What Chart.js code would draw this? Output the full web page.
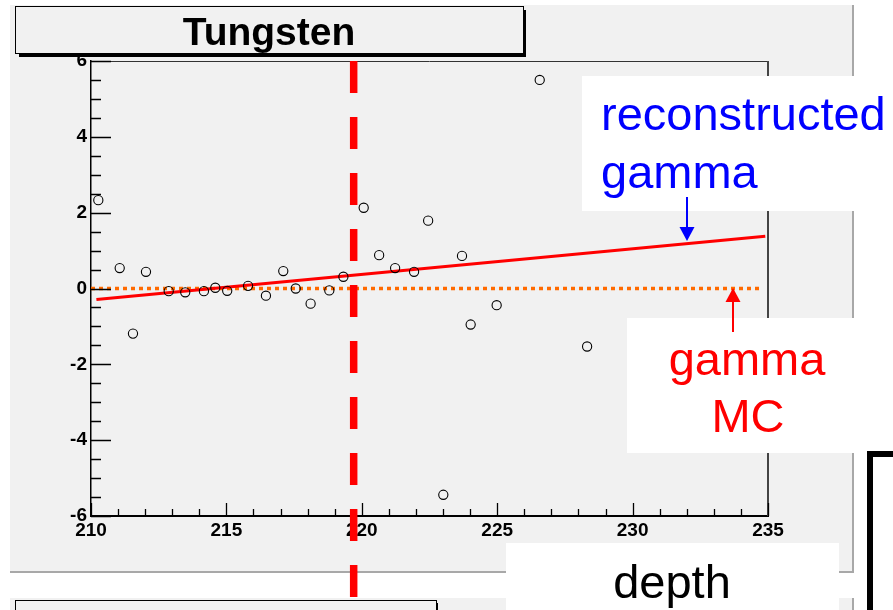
<!DOCTYPE html>
<html>
<head>
<meta charset="utf-8">
<script src="https://cdn.jsdelivr.net/npm/chart.js@4/dist/chart.umd.min.js"></script>
<style>
  html, body { margin: 0; padding: 0; background: #ffffff; }
  canvas { display: block; }
</style>
</head>
<body>
<canvas id="grafico" width="893" height="610"></canvas>
<script>
// data
const titulo = 'Tungsten';
const depthValues = [210.27, 211.06, 211.55, 212.03, 212.87, 213.48, 214.17, 214.59, 215.03, 215.80,
  216.46, 217.10, 217.56, 218.11, 218.80, 219.32, 220.07, 220.64, 221.23, 221.93,
  222.45, 223.01, 223.70, 224.02, 224.98, 226.57, 228.32];
const residuals = [2.33, 0.54, -1.19, 0.44, -0.07, -0.10, -0.07, 0.02, -0.06, 0.07,
  -0.19, 0.46, 0.00, -0.40, -0.05, 0.31, 2.13, 0.88, 0.54, 0.44,
  1.79, -5.44, 0.86, -0.95, -0.44, 5.50, -1.53];
const fitDepth = [210.2, 234.9];       // reconstructed gamma (fit)
const fitValue = [-0.29, 1.38];
const mcDepth = [210.0, 234.8];        // gamma MC
const mcValue = [0, 0];
const cutDepth = 219.7;                // vertical dashed marker
const xRange = [210, 235];
const yRange = [-6, 6];
const xStep = 5;
const yStep = 2;
const recoLabel = ['reconstructed', 'gamma'];
const mcLabel = ['gamma', 'MC'];
const xTitle = 'depth';

const fonte = '"Liberation Sans", Arial, sans-serif';
const cinza = '#f1f1f1';

// Desenha moldura, caixas e anotações ao redor do gráfico
const molduraPlugin = {
  id: 'moldura',
  beforeDraw(chart) {
    const ctx = chart.ctx;
    ctx.save();
    ctx.fillStyle = '#ffffff';
    ctx.fillRect(0, 0, chart.width, chart.height);

    // painel principal
    ctx.fillStyle = cinza;
    ctx.fillRect(10, 5, 843, 567);
    ctx.strokeStyle = '#a8a8a8';
    ctx.lineWidth = 2;
    ctx.beginPath();
    ctx.moveTo(853, 5); ctx.lineTo(853, 572); ctx.lineTo(10, 572);
    ctx.stroke();

    // painel de baixo
    ctx.fillStyle = cinza;
    ctx.fillRect(10, 598, 843, 12);
    ctx.beginPath();
    ctx.moveTo(853, 598); ctx.lineTo(853, 610);
    ctx.stroke();

    // caixa do título
    ctx.fillStyle = '#000000';
    ctx.fillRect(19, 10, 507, 47);
    ctx.fillStyle = cinza;
    ctx.fillRect(15, 6, 508, 48);
    ctx.strokeStyle = '#000000';
    ctx.lineWidth = 1;
    ctx.strokeRect(15.5, 6.5, 508, 47);
    ctx.fillStyle = '#000000';
    ctx.font = 'bold 39px ' + fonte;
    ctx.textAlign = 'center';
    ctx.textBaseline = 'alphabetic';
    ctx.fillText(titulo, 269, 45);

    // segunda caixa de título (cortada)
    ctx.fillStyle = '#000000';
    ctx.fillRect(19, 603, 419, 10);
    ctx.fillStyle = cinza;
    ctx.fillRect(15, 600, 421, 12);
    ctx.strokeStyle = '#000000';
    ctx.strokeRect(15.5, 600.5, 421, 12);

    // colchete preto à direita
    ctx.fillStyle = '#000000';
    ctx.fillRect(867, 451, 6, 159);
    ctx.fillRect(867, 451, 26, 6);
    ctx.restore();
  },
  afterDraw(chart) {
    const ctx = chart.ctx;
    const xs = chart.scales.x;
    const ys = chart.scales.y;
    const area = chart.chartArea;
    ctx.save();

    // moldura superior e direita
    ctx.strokeStyle = '#333333';
    ctx.lineWidth = 1;
    ctx.beginPath();
    ctx.moveTo(area.left, area.top + 0.5); ctx.lineTo(area.right, area.top + 0.5);
    ctx.stroke();
    ctx.lineWidth = 2;
    ctx.strokeStyle = '#444444';
    ctx.beginPath();
    ctx.moveTo(area.right, area.top); ctx.lineTo(area.right, area.bottom);
    ctx.stroke();

    // marcas internas dos eixos
    ctx.strokeStyle = '#000000';
    ctx.lineWidth = 1.3;
    ctx.beginPath();
    for (let v = yRange[0]; v <= yRange[1] + 1e-6; v += 0.5) {
      const y = Math.round(ys.getPixelForValue(v)) + 0.5;
      const len = Math.abs(v % yStep) < 1e-6 ? 20 : 10;
      ctx.moveTo(area.left, y); ctx.lineTo(area.left + len, y);
    }
    for (let v = xRange[0]; v <= xRange[1] + 1e-6; v += 1) {
      const x = Math.round(xs.getPixelForValue(v)) + 0.5;
      const len = Math.abs(v % xStep) < 1e-6 ? 13 : 7;
      ctx.moveTo(x, area.bottom); ctx.lineTo(x, area.bottom - len);
    }
    ctx.stroke();

    // caixas brancas das anotações
    ctx.fillStyle = '#ffffff';
    ctx.fillRect(582, 76, 311, 135);
    ctx.fillRect(627, 318, 227, 135);
    ctx.fillRect(506, 543, 333, 67);

    ctx.font = '47px ' + fonte;
    ctx.textBaseline = 'alphabetic';
    ctx.fillStyle = '#0000ff';
    ctx.textAlign = 'left';
    ctx.fillText(recoLabel[0], 601, 130);
    ctx.fillText(recoLabel[1], 601, 188);

    ctx.fillStyle = '#ff0000';
    ctx.textAlign = 'center';
    ctx.fillText(mcLabel[0], 747, 375);
    ctx.fillText(mcLabel[1], 748, 432);

    ctx.fillStyle = '#000000';
    ctx.fillText(xTitle, 672, 598);

    // seta azul
    ctx.strokeStyle = '#0000ff';
    ctx.fillStyle = '#0000ff';
    ctx.lineWidth = 2;
    ctx.beginPath();
    ctx.moveTo(687, 197); ctx.lineTo(687, 230);
    ctx.stroke();
    ctx.beginPath();
    ctx.moveTo(679.5, 227); ctx.lineTo(694.5, 227); ctx.lineTo(687, 241);
    ctx.closePath();
    ctx.fill();

    // seta vermelha
    ctx.strokeStyle = '#ff0000';
    ctx.fillStyle = '#ff0000';
    ctx.beginPath();
    ctx.moveTo(733, 332); ctx.lineTo(733, 298);
    ctx.stroke();
    ctx.beginPath();
    ctx.moveTo(725.5, 302); ctx.lineTo(740.5, 302); ctx.lineTo(733, 288);
    ctx.closePath();
    ctx.fill();

    // linha vertical tracejada
    const xc = xs.getPixelForValue(cutDepth);
    ctx.strokeStyle = '#ff0000';
    ctx.lineWidth = 7.5;
    ctx.setLineDash([32, 24]);
    ctx.beginPath();
    ctx.moveTo(xc, area.top); ctx.lineTo(xc, chart.height);
    ctx.stroke();
    ctx.restore();
  }
};

const pontos = depthValues.map((d, i) => ({ x: d, y: residuals[i] }));
const ajuste = fitDepth.map((d, i) => ({ x: d, y: fitValue[i] }));
const mc = mcDepth.map((d, i) => ({ x: d, y: mcValue[i] }));

const tickFont = { family: fonte, size: 19, weight: 'bold' };

new Chart(document.getElementById('grafico').getContext('2d'), {
  type: 'scatter',
  data: {
    datasets: [
      {
        label: 'data',
        data: pontos,
        pointStyle: 'circle',
        pointRadius: 4.6,
        pointBorderWidth: 1.1,
        pointBorderColor: '#000000',
        pointBackgroundColor: 'rgba(0,0,0,0)',
        showLine: false,
        order: 1
      },
      {
        label: 'reconstructed gamma',
        type: 'line',
        data: ajuste,
        borderColor: '#ff0000',
        borderWidth: 3,
        pointRadius: 0,
        fill: false,
        order: 2
      },
      {
        label: 'gamma MC',
        type: 'line',
        data: mc,
        borderColor: '#ff6a00',
        borderWidth: 3.5,
        borderDash: [4, 4],
        borderCapStyle: 'butt',
        pointRadius: 0,
        fill: false,
        order: 3
      }
    ]
  },
  plugins: [molduraPlugin],
  options: {
    responsive: false,
    devicePixelRatio: 1,
    animation: false,
    layout: { padding: { top: 61, right: 125, left: 0, bottom: 0 } },
    plugins: {
      legend: { display: false },
      tooltip: { enabled: false },
      title: { display: false }
    },
    scales: {
      x: {
        type: 'linear',
        min: xRange[0],
        max: xRange[1],
        grid: { display: false, drawTicks: false },
        border: { display: true, color: '#000000', width: 2 },
        ticks: { stepSize: xStep, color: '#000000', font: tickFont, padding: 3, maxRotation: 0 },
        afterFit(scale) { scale.height = 94; }
      },
      y: {
        type: 'linear',
        min: yRange[0],
        max: yRange[1],
        grid: { display: false, drawTicks: false },
        border: { display: true, color: '#000000', width: 1.5 },
        ticks: { stepSize: yStep, color: '#000000', font: tickFont, padding: 4 },
        afterFit(scale) { scale.width = 91; }
      }
    }
  }
});
</script>
</body>
</html>
